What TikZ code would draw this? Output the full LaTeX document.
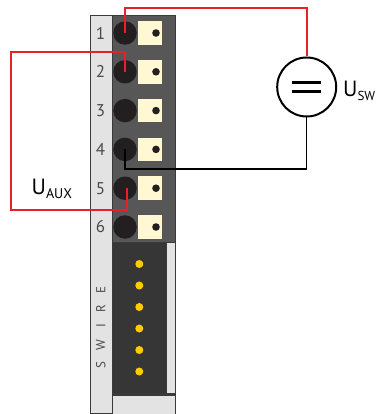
\documentclass[tikz,border=0pt]{standalone}
\usepackage{fontspec}
\setmainfont{PT Sans}
\begin{document}
\begin{tikzpicture}[x=1pt,y=-1pt,
  redwire/.style={draw=wirered,line width=2pt},
  blackwire/.style={draw=black,line width=1.5pt},
  termhole/.style={circle,fill=holeblack,minimum size=23.5pt,inner sep=0pt},
  termsq/.style={rectangle,fill=creamy,minimum width=23.5pt,minimum height=23.5pt,inner sep=0pt},
  termdot/.style={circle,fill=holeblack,minimum size=7.6pt,inner sep=0pt},
  ledot/.style={circle,fill=ledyellow,minimum size=8pt,inner sep=0pt},
  numlab/.style={font=\fontsize{17}{17}\selectfont,text=numgray,inner sep=0pt},
  swlab/.style={font=\fontsize{13}{13}\selectfont,text=numgray,inner sep=0pt,rotate=90},
  ulab/.style={font=\fontsize{22}{22}\selectfont,inner sep=0pt,anchor=base west}
]
\definecolor{wirered}{HTML}{E8202A}
\definecolor{holeblack}{HTML}{231F20}
\definecolor{creamy}{HTML}{FFF8D2}
\definecolor{ledyellow}{HTML}{FFCC00}
\definecolor{numgray}{HTML}{4A4A4A}
\definecolor{stripgray}{HTML}{E3E3E3}
\definecolor{bodygray}{HTML}{575757}
\definecolor{bodydark}{HTML}{363636}
\definecolor{edgegray}{HTML}{3A3A3A}
\useasboundingbox (0,0) rectangle (377,414);
\fill[white] (0,0) rectangle (377,414);
% module
\draw[fill=stripgray,draw=edgegray,line width=0.8pt] (90.5,15.5) rectangle (112,413.5);
\draw[fill=bodygray,draw=edgegray,line width=1pt] (112,16) rectangle (175.5,242);
\draw[fill=bodydark,draw=edgegray,line width=1pt] (112,242) rectangle (166.5,394);
\draw[fill=stripgray,draw=edgegray,line width=1pt] (166.5,242) rectangle (175.5,394);
\draw[fill=stripgray,draw=edgegray,line width=1pt] (112,395) rectangle (175.5,414);
\draw[edgegray,line width=2pt] (112,394) -- (176,394);
% terminals
\foreach \i in {1,...,6}{
  \pgfmathsetmacro{\yy}{33+38.8*(\i-1)}
  \node[termhole] (t\i) at (125,\yy) {};
  \node[termsq] (s\i) at (150,\yy) {};
  \node[termdot] (d\i) at (156,\yy) {};
  \node[numlab] (n\i) at (100.5,\yy) {\i};
}
% SWIRE
\node[swlab] (lS) at (100.7,365) {S};
\node[swlab] (lW) at (100.7,345) {W};
\node[swlab] (lI) at (100.7,326) {I};
\node[swlab] (lR) at (100.7,309) {R};
\node[swlab] (lE) at (100.7,290) {E};
% LEDs
\foreach \j in {0,...,5}{
  \pgfmathsetmacro{\yy}{264+21.5*\j}
  \node[ledot] (led\j) at (139.3,\yy) {};
}
% source
\node[circle,draw=black,line width=2pt,minimum size=59pt,inner sep=0pt] (src) at (306.7,87) {};
\draw[line width=3pt] (291.7,82.3) -- (321,82.3);
\draw[line width=3pt] (291.7,91.7) -- (321,91.7);
% wires
\coordinate (r1a) at (125,8);
\coordinate (r1b) at (306.7,8);
\draw[redwire] (t1.center) -- (r1a) -- (r1b) -- (src.north);
\coordinate (r2a) at (125,52);
\coordinate (r2b) at (11,52);
\coordinate (r2c) at (11,210);
\coordinate (r2d) at (126.5,210);
\coordinate (t5c) at (126.5,188.2);
\draw[redwire] (t2.center) -- (r2a) -- (r2b) -- (r2c) -- (r2d) -- (t5c);
\coordinate (b1) at (125,169);
\coordinate (b2) at (306.7,169);
\draw[blackwire] (t4.center) -- (b1) -- (b2) -- (src.south);
% labels
\node[ulab] (uaux) at (31.5,194) {U{\fontsize{14}{14}\selectfont\raisebox{-4pt}{AUX}}};
\node[ulab] (usw) at (343,96.7) {U{\fontsize{13}{13}\selectfont\raisebox{-4pt}{SW}}};
\end{tikzpicture}
\end{document}
